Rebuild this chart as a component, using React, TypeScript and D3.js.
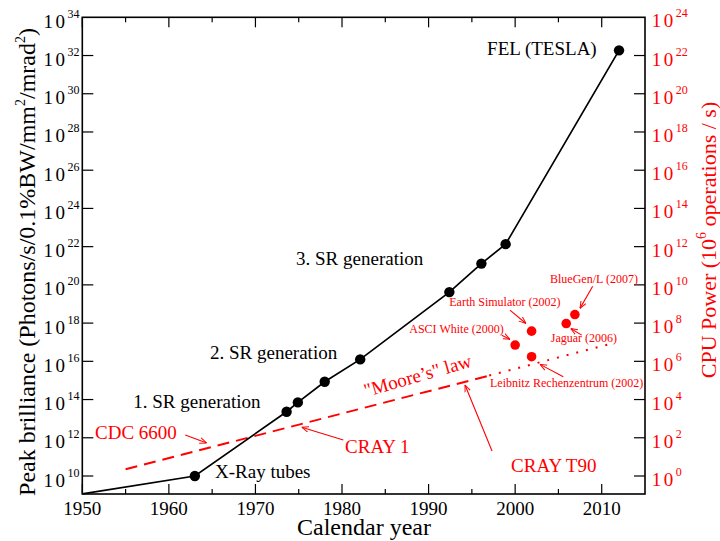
import React from 'react';
import * as d3 from 'd3';

// ---- data ----
const srYears = [1950, 1963.0, 1973.6, 1974.9, 1978.0, 1982.1, 1992.4, 1996.1, 1998.9, 2012.0];
const srBrilliance = [1.15e9, 1e10, 2.3e13, 7.1e13, 8.5e14, 1.26e16, 4.2e19, 1.3e21, 1.35e22, 1.86e32];
const srMarker = [false, true, true, true, true, true, true, true, true, true];

const cpuNames = ['ASCI White (2000)', 'Earth Simulator (2002)', 'Leibnitz Rechenzentrum (2002)', 'Jaguar (2006)', 'BlueGen/L (2007)'];
const cpuYears = [2000.0, 2001.9, 2001.9, 2005.9, 2006.9];
const cpuMops = [7.1e6, 3.8e7, 1.74e6, 9.5e7, 2.8e8];

const mooreDashedYears = [1955.0, 1997.0];
const mooreDashedMops = [2.24, 1.8e5];
const mooreDottedYears = [1997.0, 2011.3];
const mooreDottedMops = [1.8e5, 8.9e6];

const xMajorYears = [1950, 1960, 1970, 1980, 1990, 2000, 2010];
const xMinorYears = [1955, 1965, 1975, 1985, 1995, 2005];
const leftTickExps = [10, 12, 14, 16, 18, 20, 22, 24, 26, 28, 30, 32, 34];
const rightTickExps = [0, 2, 4, 6, 8, 10, 12, 14, 16, 18, 20, 22, 24];

// text annotations: [label, year, log10 brilliance, color, size, anchor]
const blackLabels: [string, number, number, string][] = [
  ['X-Ray tubes', 1965.33, 9.895, 'start'],
  ['1. SR generation', 1955.89, 13.58, 'start'],
  ['2. SR generation', 1964.75, 16.14, 'start'],
  ['3. SR generation', 1974.69, 21.03, 'start'],
  ['FEL (TESLA)', 2009.42, 32.04, 'end'],
];
const redBigLabels: [string, number, number][] = [
  ['CDC 6600', 1951.47, 11.91],
  ['CRAY 1', 1980.35, 11.2],
  ['CRAY T90', 1999.53, 10.21],
];
const redSmallLabelPos: [number, number][] = [
  [1987.77, 17.5],
  [1992.39, 18.92],
  [1997.1, 14.65],
  [2004.11, 17.03],
  [2004.03, 20.09],
];
// arrows: [fromYear, fromLog, toYear, toLog]
const arrows: [number, number, number, number][] = [
  [1961.89, 12.14, 1964.37, 11.73],
  [1980.15, 11.88, 1975.34, 12.55],
  [1997.33, 11.31, 1994.21, 14.76],
  [1998.45, 17.37, 1999.4, 17.15],
  [1999.4, 18.68, 2001.25, 17.98],
  [2005.56, 15.19, 2002.87, 15.84],
  [2007.69, 17.37, 2006.42, 17.72],
  [2008.96, 19.93, 2007.49, 18.77],
];
const mooreLabelPos: [number, number, number] = [1982.77, 14.13, -16];

const W = 720;
const H = 541;
const L = 82.3, R = 645, T = 17.3, B = 494;
const FONT = "'Liberation Serif', 'Times New Roman', serif";
const RED = '#ff0000';

export default function App() {
  const x = d3.scaleLinear().domain([1950, 2015]).range([L, R]);
  const yL = d3.scaleLog().domain([1e10, 1e34]).range([476, T]);
  const yR = d3.scaleLog().domain([1, 1e24]).range([476, T]);
  const at = (yr: number, lg: number): [number, number] => [x(yr), yL(Math.pow(10, lg))];

  const srLine = d3.line<number>().x((d, i) => x(srYears[i])).y((d) => yL(d))(srBrilliance) || '';
  const mooreDash = d3.line<number>().x((d, i) => x(mooreDashedYears[i])).y((d) => yR(d))(mooreDashedMops) || '';
  const mooreDot = d3.line<number>().x((d, i) => x(mooreDottedYears[i])).y((d) => yR(d))(mooreDottedMops) || '';

  return (
    <svg width={W} height={H} style={{ position: 'absolute', left: 0, top: 0, background: '#fff' }} fontFamily={FONT}>
      <defs>
        <marker id="arr" viewBox="0 0 10 10" refX="10" refY="5" markerWidth="7" markerHeight="7" orient="auto" markerUnits="userSpaceOnUse">
          <path d="M0,1 L10,5 L0,9" fill="none" stroke={RED} strokeWidth={1.4} />
        </marker>
      </defs>
      <rect x={0} y={0} width={W} height={H} fill="#fff" />
      {/* frame */}
      <rect x={L} y={T} width={R - L} height={B - T} fill="none" stroke="#000" strokeWidth={1.6} />
      {/* x ticks */}
      {xMajorYears.map((yr) => (
        <g key={'xm' + yr}>
          <line x1={x(yr)} x2={x(yr)} y1={B} y2={B - 10} stroke="#000" strokeWidth={1.2} />
          <line x1={x(yr)} x2={x(yr)} y1={T} y2={T + 10} stroke="#000" strokeWidth={1.2} />
          <text x={x(yr)} y={515} fontSize={19} textAnchor="middle" fill="#000">{yr}</text>
        </g>
      ))}
      {xMinorYears.map((yr) => (
        <g key={'xn' + yr}>
          <line x1={x(yr)} x2={x(yr)} y1={B} y2={B - 5} stroke="#000" strokeWidth={1.2} />
          <line x1={x(yr)} x2={x(yr)} y1={T} y2={T + 5} stroke="#000" strokeWidth={1.2} />
        </g>
      ))}
      {/* left ticks */}
      {leftTickExps.map((e) => {
        const yy = yL(Math.pow(10, e));
        return (
          <g key={'l' + e}>
            {e < 34 && <line x1={L} x2={L + 11} y1={yy} y2={yy} stroke="#000" strokeWidth={1.2} />}
            <text x={79.5} y={yy + 10.5} fontSize={19} textAnchor="end" fill="#000">
              <tspan letterSpacing={2.5}>10</tspan>
              <tspan fontSize={12} dy={-10}>{e}</tspan>
            </text>
          </g>
        );
      })}
      {/* right ticks */}
      {rightTickExps.map((e) => {
        const yy = yR(Math.pow(10, e));
        return (
          <g key={'r' + e}>
            {e < 24 && <line x1={R} x2={R - 11} y1={yy} y2={yy} stroke="#000" strokeWidth={1.2} />}
            <text x={651.7} y={yy + 10} fontSize={19} textAnchor="start" fill={RED}>
              <tspan letterSpacing={2.5}>10</tspan>
              <tspan fontSize={12} dy={-10}>{e}</tspan>
            </text>
          </g>
        );
      })}
      {/* axis titles */}
      <text x={364} y={535} fontSize={24} textAnchor="middle" fill="#000">Calendar year</text>
      <text transform="translate(35,262) rotate(-90)" fontSize={24} textAnchor="middle" fill="#000">
        Peak brilliance (Photons/s/0.1%BW/mm<tspan fontSize={14} dy={-10}>2</tspan><tspan dy={10}>/mrad</tspan><tspan fontSize={14} dy={-10}>2</tspan><tspan dy={10}>)</tspan>
      </text>
      <text transform="translate(716,240) rotate(-90)" fontSize={22} textAnchor="middle" fill={RED}>
        CPU Power  (10<tspan fontSize={14} dy={-10}>6</tspan><tspan dy={10}> operations / s)</tspan>
      </text>

      {/* Moore's law */}
      <path d={mooreDash} fill="none" stroke={RED} strokeWidth={2} strokeDasharray="12,7" />
      <path d={mooreDot} fill="none" stroke={RED} strokeWidth={2} strokeDasharray="2,8" />
      {(() => {
        const [mx, my] = at(mooreLabelPos[0], mooreLabelPos[1]);
        return (
          <text transform={`translate(${mx},${my}) rotate(${mooreLabelPos[2]})`} fontSize={19} fill={RED}>
            "Moore’s" law
          </text>
        );
      })()}

      {/* SR line */}
      <path d={srLine} fill="none" stroke="#000" strokeWidth={1.7} />
      {srBrilliance.map((v, i) =>
        srMarker[i] ? <circle key={'s' + i} cx={x(srYears[i])} cy={yL(v)} r={5.2} fill="#000" /> : null
      )}

      {/* CPU points */}
      {cpuMops.map((v, i) => (
        <circle key={'c' + i} cx={x(cpuYears[i])} cy={yR(v)} r={4.8} fill={RED} />
      ))}

      {/* arrows */}
      {arrows.map((a, i) => {
        const [x1, y1] = at(a[0], a[1]);
        const [x2, y2] = at(a[2], a[3]);
        return <line key={'a' + i} x1={x1} y1={y1} x2={x2} y2={y2} stroke={RED} strokeWidth={1.1} markerEnd="url(#arr)" />;
      })}

      {/* labels */}
      {blackLabels.map(([t, yr, lg, anc]) => {
        const [lx, ly] = at(yr, lg);
        return <text key={t} x={lx} y={ly} fontSize={19} textAnchor={anc as any} fill="#000">{t}</text>;
      })}
      {redBigLabels.map(([t, yr, lg]) => {
        const [lx, ly] = at(yr, lg);
        return <text key={t} x={lx} y={ly} fontSize={19} fill={RED}>{t}</text>;
      })}
      {cpuNames.map((t, i) => {
        const [lx, ly] = at(redSmallLabelPos[i][0], redSmallLabelPos[i][1]);
        return <text key={t} x={lx} y={ly} fontSize={12} fill={RED}>{t}</text>;
      })}
    </svg>
  );
}
